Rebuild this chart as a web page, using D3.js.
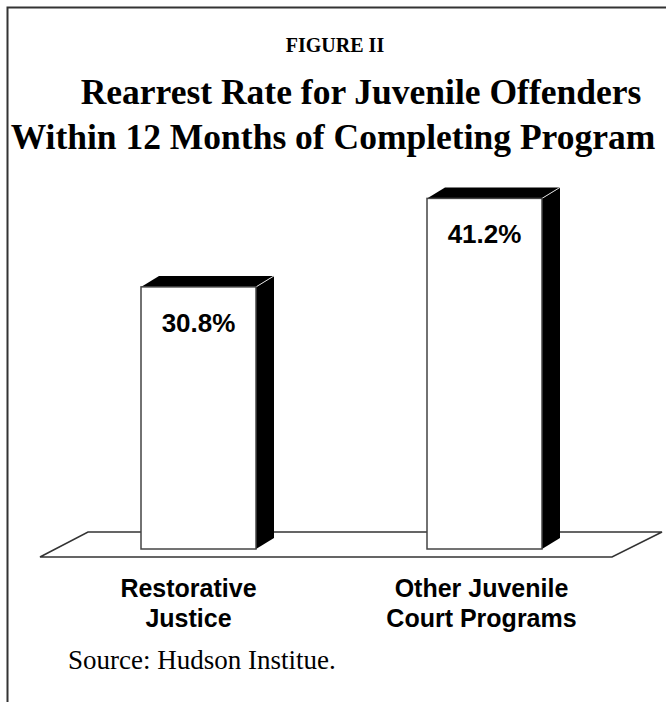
<!DOCTYPE html>
<html>
<head>
<meta charset="utf-8">
<script src="https://cdn.jsdelivr.net/npm/d3@7"></script>
<style>
  body { margin: 0; background: #fff; }
  svg { display: block; }
</style>
</head>
<body>
<div id="chart"></div>
<script>
(function() {
  // data
  const categories = ['Restorative Justice', 'Other Juvenile Court Programs'];
  const categoryLines = [['Restorative', 'Justice'], ['Other Juvenile', 'Court Programs']];
  const values = [30.8, 41.2];
  const valueLabels = ['30.8%', '41.2%'];

  const width = 666, height = 702;
  const barW = 115;          // front face width
  const depth = {dx: 18, dy: -11}; // 3d offset of bars

  const svg = d3.select('#chart').append('svg')
    .attr('width', width)
    .attr('height', height);

  // page frame: only top and left edges are visible
  svg.append('path')
    .attr('d', `M7.5,${height} V7.5 H${width}`)
    .attr('fill', 'none')
    .attr('stroke', '#333')
    .attr('stroke-width', 2);

  // headings
  svg.append('text')
    .attr('x', 335).attr('y', 52)
    .attr('text-anchor', 'middle')
    .style('font', 'bold 20px "Liberation Serif", "Times New Roman", serif')
    .text('FIGURE II');

  const titleLines = ['Rearrest Rate for Juvenile Offenders', 'Within 12 Months of Completing Program'];
  svg.append('text')
    .attr('text-anchor', 'middle')
    .style('font', 'bold 35.5px "Liberation Serif", "Times New Roman", serif')
    .selectAll('tspan')
    .data(titleLines)
    .enter().append('tspan')
      .attr('x', (d, i) => i === 0 ? 361 : 333)
      .attr('y', (d, i) => 104 + i * 45)
      .text(d => d);

  // scales
  const x = d3.scalePoint().domain(categories).range([198.5, 484.5]);
  const y = d3.scaleLinear().domain([0, 45]).range([549, 549 - 45 * 8.51]);

  // floor plane
  const floor = [[40, 557], [612, 557], [662, 532], [88, 532]];
  svg.append('polygon')
    .attr('points', floor.map(p => p.join(',')).join(' '))
    .attr('fill', '#fff')
    .attr('stroke', '#333')
    .attr('stroke-width', 1.5);

  const bars = svg.selectAll('.bar')
    .data(values)
    .enter().append('g')
    .attr('class', 'bar');

  // top face
  bars.append('polygon')
    .attr('points', (d, i) => {
      const xl = x(categories[i]) - barW / 2, xr = xl + barW, yt = y(d);
      return [[xl, yt], [xl + depth.dx, yt + depth.dy], [xr + depth.dx, yt + depth.dy], [xr, yt]]
        .map(p => p.join(',')).join(' ');
    })
    .attr('fill', '#000');

  // side face
  bars.append('polygon')
    .attr('points', (d, i) => {
      const xr = x(categories[i]) + barW / 2, yt = y(d), yb = y(0);
      return [[xr, yt], [xr + depth.dx, yt + depth.dy], [xr + depth.dx, yb + depth.dy], [xr, yb]]
        .map(p => p.join(',')).join(' ');
    })
    .attr('fill', '#000');

  // light edge between top and side
  bars.append('line')
    .attr('x1', (d, i) => x(categories[i]) + barW / 2)
    .attr('y1', d => y(d))
    .attr('x2', (d, i) => x(categories[i]) + barW / 2 + depth.dx)
    .attr('y2', d => y(d) + depth.dy)
    .attr('stroke', '#ddd')
    .attr('stroke-width', 1);

  // front face
  bars.append('rect')
    .attr('x', (d, i) => x(categories[i]) - barW / 2)
    .attr('y', d => y(d))
    .attr('width', barW)
    .attr('height', d => y(0) - y(d))
    .attr('fill', '#fff')
    .attr('stroke', '#444')
    .attr('stroke-width', 1.5);

  // value labels
  bars.append('text')
    .attr('x', (d, i) => x(categories[i]))
    .attr('y', d => y(d) + 45)
    .attr('text-anchor', 'middle')
    .style('font', 'bold 26px "Liberation Sans", Arial, sans-serif')
    .text((d, i) => valueLabels[i]);

  // category labels
  svg.selectAll('.cat')
    .data(categoryLines)
    .enter().append('text')
    .attr('class', 'cat')
    .attr('text-anchor', 'middle')
    .style('font', 'bold 25px "Liberation Sans", Arial, sans-serif')
    .each(function(lines, i) {
      d3.select(this).selectAll('tspan')
        .data(lines)
        .enter().append('tspan')
        .attr('x', x(categories[i]) - (i === 0 ? 10 : 3))
        .attr('y', (d, j) => 597 + j * 30)
        .text(d => d);
    });

  // source note
  svg.append('text')
    .attr('x', 68).attr('y', 669)
    .style('font', '27px "Liberation Serif", "Times New Roman", serif')
    .text('Source: Hudson Institue.');
}());
</script>
</body>
</html>
